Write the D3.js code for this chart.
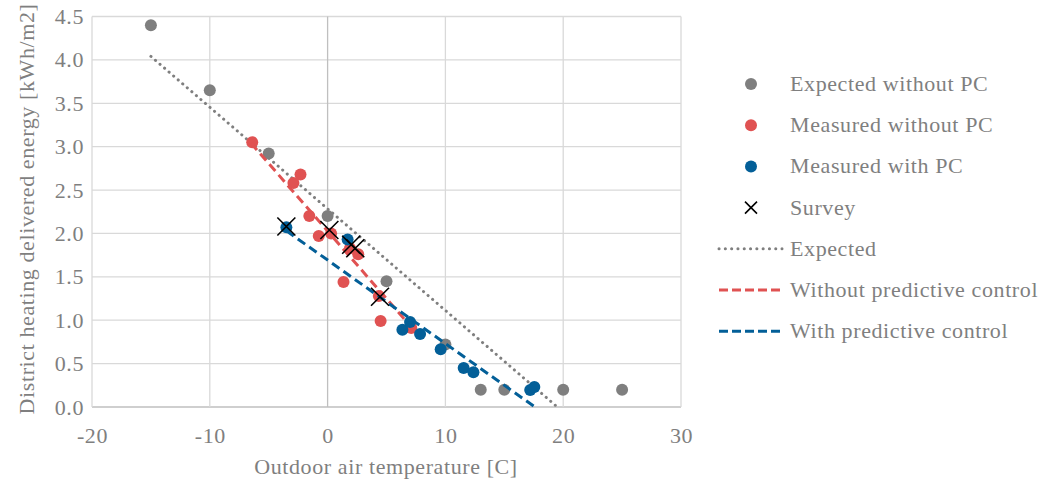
<!DOCTYPE html>
<html>
<head>
<meta charset="utf-8">
<script src="https://d3js.org/d3.v7.min.js"></script>
<style>
  body { margin: 0; background: #fff; }
  text { font-family: "Liberation Serif", serif; fill: #7f7f7f; letter-spacing: 0.6px; }
</style>
</head>
<body>
<svg id="chart" width="1064" height="486"></svg>
<script>
// scatter points
var expX = [-15, -10, -5, 0, 5, 10, 13, 15, 20, 25];
var expY = [4.4, 3.65, 2.92, 2.2, 1.45, 0.72, 0.2, 0.2, 0.2, 0.2];

var noPcX = [-6.4, -2.3, -2.9, -1.55, -0.75, 0.3, 1.35, 1.9, 2.6, 4.35, 4.5, 7.1];
var noPcY = [3.05, 2.68, 2.58, 2.2, 1.97, 2.0, 1.44, 1.83, 1.76, 1.28, 0.99, 0.91];

var pcX = [-3.5, 1.7, 6.35, 7.0, 7.85, 9.6, 11.55, 12.38, 17.2, 17.55];
var pcY = [2.07, 1.93, 0.89, 0.98, 0.84, 0.665, 0.45, 0.4, 0.195, 0.23];

var surveyX = [-3.5, 0.15, 2.0, 2.35, 4.45];
var surveyY = [2.08, 2.04, 1.87, 1.83, 1.27];

// trend lines (end points)
var expLineX = [-15, 19.5],  expLineY = [4.04, 0];
var noPcLineX = [-6.5, 7.3], noPcLineY = [3.04, 0.89];
var pcLineX = [-3.5, 17.6],  pcLineY = [2.03, 0];

var xTicks = [-20, -10, 0, 10, 20, 30];
var yTicks = [0, 0.5, 1, 1.5, 2, 2.5, 3, 3.5, 4, 4.5];

var grey = "#7f7f7f", red = "#e05252", blue = "#035f98";

var svg = d3.select("#chart");
var x = d3.scaleLinear().domain([-20, 30]).range([92, 681]);
var y = d3.scaleLinear().domain([0, 4.5]).range([407, 16.5]);

function zip(xs, ys) { return xs.map(function(v, i) { return [v, ys[i]]; }); }

// grid
svg.append("g").selectAll("line").data(yTicks).enter().append("line")
  .attr("x1", x(-20)).attr("x2", x(30))
  .attr("y1", function(d) { return y(d); }).attr("y2", function(d) { return y(d); })
  .attr("stroke", d => d === 0 ? "#bfbfbf" : "#d9d9d9").attr("stroke-width", 1.3);
svg.append("g").selectAll("line").data(xTicks).enter().append("line")
  .attr("y1", y(0)).attr("y2", y(4.5))
  .attr("x1", function(d) { return x(d); }).attr("x2", function(d) { return x(d); })
  .attr("stroke", d => d === 0 ? "#bfbfbf" : "#d9d9d9").attr("stroke-width", 1.3);

// axes labels
var xAxis = svg.append("g").attr("transform", "translate(0," + y(0) + ")")
  .call(d3.axisBottom(x).tickValues(xTicks).tickSize(0).tickPadding(20).tickFormat(d => String(d)));
var yAxis = svg.append("g").attr("transform", "translate(" + x(-20) + ",0)")
  .call(d3.axisLeft(y).tickValues(yTicks).tickSize(0).tickPadding(8).tickFormat(d => d.toFixed(1)));
svg.selectAll(".domain").remove();
svg.selectAll(".tick text").style("font-family", "Liberation Serif, serif").style("font-size", "22px").attr("fill", grey);

svg.append("text").attr("x", 386).attr("y", 474).attr("text-anchor", "middle")
  .style("font-size", "22px").text("Outdoor air temperature [C]");
svg.append("text").attr("transform", "translate(34,209) rotate(-90)").attr("text-anchor", "middle")
  .style("font-size", "22px").text("District heating delivered energy [kWh/m2]");

// lines
var line = d3.line().x(d => x(d[0])).y(d => y(d[1]));
svg.append("path").datum(zip(expLineX, expLineY)).attr("d", line)
  .attr("fill", "none").attr("stroke", grey).attr("stroke-width", 3)
  .attr("stroke-linecap", "round").attr("stroke-dasharray", "0.1,5.9");

// points
function dots(xs, ys, col) {
  svg.append("g").selectAll("circle").data(zip(xs, ys)).enter().append("circle")
    .attr("cx", d => x(d[0])).attr("cy", d => y(d[1])).attr("r", 6).attr("fill", col);
}
dots(expX, expY, grey);
dots(noPcX, noPcY, red);
svg.append("path").datum(zip(noPcLineX, noPcLineY)).attr("d", line)
  .attr("fill", "none").attr("stroke", red).attr("stroke-width", 3).attr("stroke-dasharray", "9,5");
dots(pcX, pcY, blue);
svg.append("path").datum(zip(pcLineX, pcLineY)).attr("d", line)
  .attr("fill", "none").attr("stroke", blue).attr("stroke-width", 3).attr("stroke-dasharray", "9,5");

function cross(g, cx, cy, s) {
  g.append("path").attr("d", "M" + (cx - s) + "," + (cy - s) + "L" + (cx + s) + "," + (cy + s) +
      "M" + (cx - s) + "," + (cy + s) + "L" + (cx + s) + "," + (cy - s))
    .attr("stroke", "#000").attr("stroke-width", 1.6).attr("fill", "none");
}
var sg = svg.append("g");
zip(surveyX, surveyY).forEach(function(d) { cross(sg, x(d[0]), y(d[1]), 9); });

// legend
var legendNames = ["Expected without PC", "Measured without PC", "Measured with PC", "Survey",
  "Expected", "Without predictive control", "With predictive control"];
var legendCols = [grey, red, blue, "#000", grey, red, blue];
var lg = svg.append("g");
legendNames.forEach(function(name, i) {
  var ly = 84 + i * 41.2;
  if (i < 3) {
    lg.append("circle").attr("cx", 751).attr("cy", ly).attr("r", 6).attr("fill", legendCols[i]);
  } else if (i === 3) {
    cross(lg, 751, ly, 6);
  } else {
    lg.append("line").attr("x1", 719).attr("x2", 782).attr("y1", ly).attr("y2", ly)
      .attr("stroke", legendCols[i]).attr("stroke-width", 3)
      .attr("stroke-linecap", i === 4 ? "round" : "butt")
      .attr("stroke-dasharray", i === 4 ? "0.1,6.2" : "9,4");
  }
  lg.append("text").attr("x", 790).attr("y", ly + 7).style("font-size", "22px").text(name);
});
</script>
</body>
</html>
